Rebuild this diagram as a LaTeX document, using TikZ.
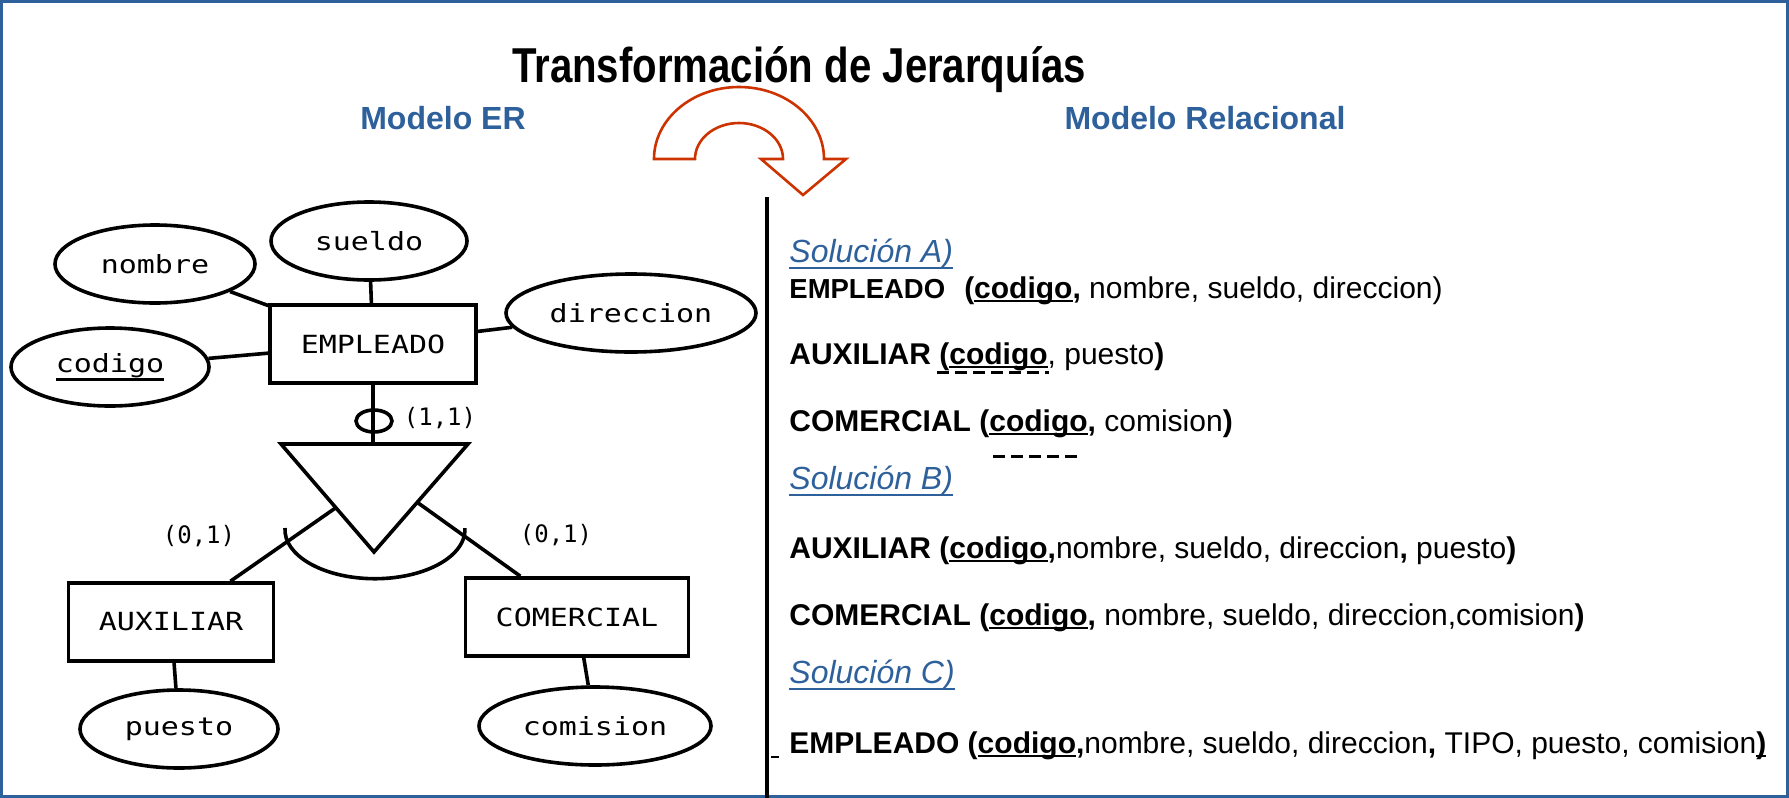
\documentclass[tikz,border=0pt]{standalone}
\usepackage{fontspec}
\setmainfont{Liberation Sans}
\newfontfamily\ermono[FakeStretch=1.2]{DejaVu Sans Mono}
\newfontfamily\cardmono{DejaVu Sans Mono}
\newfontfamily\titulofont[FakeStretch=0.82]{Liberation Sans}
\usetikzlibrary{shapes.geometric,calc}

\definecolor{azulER}{RGB}{46,96,155}
\definecolor{rojoflecha}{RGB}{204,51,0}

% subrayado: profundidad, grosor, texto
\newsavebox\clavebox
\newcommand{\subrayado}[3]{\sbox\clavebox{#3}\rlap{\rule[-#1]{\wd\clavebox}{#2}}\usebox\clavebox}
\newcommand{\clave}[1]{\subrayado{2pt}{1pt}{\textbf{#1}}}

\begin{document}
\begin{tikzpicture}[x=0.5pt, y=0.5pt,
  entidad/.style={draw, line width=1.8pt, rectangle, font=\ermono\fontsize{12.5}{15}\selectfont, minimum height=39pt},
  atributo/.style={draw, line width=1.8pt, ellipse, inner sep=0pt, font=\ermono\fontsize{12.5}{15}\selectfont, minimum height=39pt},
  linea/.style={line width=1.8pt},
  card/.style={font=\cardmono\fontsize{12}{14}\selectfont},
  cabecera/.style={anchor=base, inner sep=0pt, text=azulER, font=\bfseries\fontsize{16}{19}\selectfont},
  solucion/.style={anchor=base west, inner sep=0pt, text=azulER, font=\itshape\fontsize{16}{19}\selectfont},
  fila/.style={anchor=base west, inner sep=0pt, font=\fontsize{15}{18}\selectfont},
  ajena/.style={line width=1.5pt, dash pattern=on 6pt off 3pt}]

\useasboundingbox (0,0) rectangle (1789,-798);
\draw[azulER, line width=1.5pt] (1.5,-1.5) rectangle (1787.5,-796.5);

% Titulos
\node[anchor=base, inner sep=0pt, font=\titulofont\bfseries\fontsize{24.5}{29}\selectfont] (titulo) at (799,-82) {Transformación de Jerarquías};
\node[cabecera] (modER) at (443,-129) {Modelo ER};
\node[cabecera] (modRel) at (1205,-129) {Modelo Relacional};

% Flecha curva
\draw[rojoflecha, line width=1.3pt] (654,-159) arc[start angle=180, end angle=0, x radius=42.5pt, y radius=36pt]
  -- (846,-159) -- (803,-195) -- (761,-159) -- (783,-159)
  arc[start angle=0, end angle=180, x radius=22pt, y radius=18pt] -- cycle;

% Separador
\draw[line width=2.1pt] (767,-197) -- (767,-798);
\draw[line width=1pt] (771,-757) -- (779,-757);

% Modelo ER
\node[entidad, minimum width=103pt] (emp) at (373,-344) {EMPLEADO};
\node[atributo, minimum width=100pt] (nombre) at (155,-264) {nombre};
\node[atributo, minimum width=98pt] (sueldo) at (369,-241) {sueldo};
\node[atributo, minimum width=125pt] (direccion) at (631,-313) {direccion};
\node[atributo, minimum width=99pt] (codigo) at (110,-367) {\subrayado{4.5pt}{1.4pt}{codigo}};

\draw[linea] (nombre) -- (emp);
\draw[linea] (sueldo) -- (emp);
\draw[linea] (direccion) -- (emp);
\draw[linea] (codigo) -- (emp);

% Jerarquia
\coordinate (isa-l) at (281,-444);
\coordinate (isa-r) at (468,-444);
\coordinate (isa-p) at (374,-552);
\draw[linea] (isa-l) -- (isa-r) -- (isa-p) -- cycle;
\draw[linea] (emp.south) -- (emp.south |- isa-l);
\node[draw, line width=1.8pt, ellipse, inner sep=0pt, minimum width=18pt, minimum height=11pt] (total) at (374,-421) {};
\draw[linea] (285,-528) arc[start angle=178, end angle=362, x radius=45pt, y radius=24.5pt];

\node[card] (c11) at (440,-418) {(1,1)};
\node[card] (c01a) at (199,-536) {(0,1)};
\node[card] (c01b) at (556,-535) {(0,1)};

\node[entidad, minimum width=102.5pt] (aux) at (171,-622) {AUXILIAR};
\node[entidad, minimum width=111.5pt] (com) at (577,-617) {COMERCIAL};
\node[atributo, minimum width=99pt] (puesto) at (179,-729) {puesto};
\node[atributo, minimum width=116pt] (comision) at (595,-726) {comision};

\draw[linea] ($(isa-l)!0.59!(isa-p)$) -- ($(aux.north)!0.57!(aux.north east)$);
\draw[linea] ($(isa-r)!0.54!(isa-p)$) -- ($(com.north)!0.5!(com.north west)$);
\draw[linea] (aux) -- (puesto);
\draw[linea] (com) -- (comision);

% Modelo Relacional
\node[solucion] (solA) at (789,-262) {\subrayado{3.5pt}{1pt}{Solución A)}};
\node[fila] (a1) at (789,-298) {{\fontsize{13.75}{16}\selectfont\textbf{EMPLEADO}}\hspace{9.5pt}\textbf{(}\clave{codigo}\textbf{,} nombre, sueldo, direccion)};
\node[fila] (a2) at (789,-364) {\textbf{AUXILIAR (}\clave{codigo}, puesto\textbf{)}};
\node[fila] (a3) at (789,-431) {\textbf{COMERCIAL (}\clave{codigo}\textbf{,} comision\textbf{)}};
\draw[ajena] (937,-372) -- (1049,-372);
\draw[ajena] (993,-456) -- (1082,-456);

\node[solucion] (solB) at (789,-489) {\subrayado{3.5pt}{1pt}{Solución B)}};
\node[fila] (b1) at (789,-558) {\textbf{AUXILIAR (}\clave{codigo}\textbf{,}nombre, sueldo, direccion\textbf{,} puesto\textbf{)}};
\node[fila] (b2) at (789,-625) {\textbf{COMERCIAL (}\clave{codigo}\textbf{,} nombre, sueldo, direccion,comision\textbf{)}};

\node[solucion] (solC) at (789,-683) {\subrayado{3.5pt}{1pt}{Solución C)}};
\node[fila] (c1) at (789,-753) {\textbf{EMPLEADO (}\clave{codigo}\textbf{,}nombre, sueldo, direccion\textbf{,} TIPO, puesto, comision\clave{)}};

\end{tikzpicture}
\end{document}
